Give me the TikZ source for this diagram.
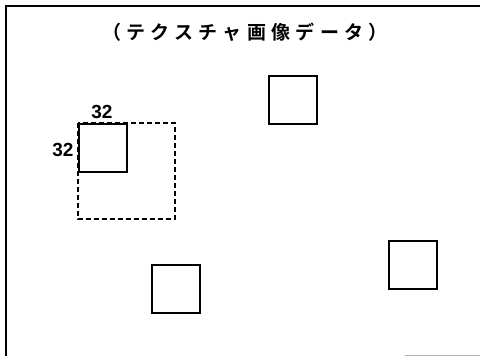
\documentclass[tikz,border=0pt]{standalone}
\usepackage{fontspec}
\setmainfont{Liberation Sans}
\newfontfamily\jpfont[LetterSpace=28,BoldFont={Noto Sans CJK JP Bold}]{Noto Sans CJK JP}
\begin{document}
\begin{tikzpicture}[x=1pt,y=-1pt,
  box/.style={draw=black,line width=2.1pt},
  dbox/.style={draw=black,line width=1.5pt,dash pattern=on 5pt off 3pt},
  frame/.style={draw=black,line width=2pt},
  num/.style={font=\fontsize{19}{19}\selectfont\bfseries,inner sep=0pt}]
\useasboundingbox (0,0) rectangle (480,356);
\fill[white] (0,0) rectangle (480,356);
% frame
\draw[frame] (480,6) -- (6,6) -- (6,356);
\draw[gray!60,line width=1pt] (405,355) -- (480,355);
% title
\node[inner sep=0pt] (title) at (245,32) {\jpfont\bfseries\fontsize{19}{19}\selectfont （テクスチャ画像データ）};
% squares
\draw[dbox] (78,123) rectangle (175,219);
\node[box,minimum size=48pt,inner sep=0pt,anchor=north west] (s0) at (78,123) {};
\node[box,minimum size=48pt,inner sep=0pt,anchor=north west] (s1) at (268,75) {};
\node[box,minimum size=48pt,inner sep=0pt,anchor=north west] (s2) at (388,240) {};
\node[box,minimum size=48pt,inner sep=0pt,anchor=north west] (s3) at (151,264) {};
% labels
\node[num] (l1) at (102,112) {32};
\node[num] (l2) at (63,150) {32};
\end{tikzpicture}
\end{document}
